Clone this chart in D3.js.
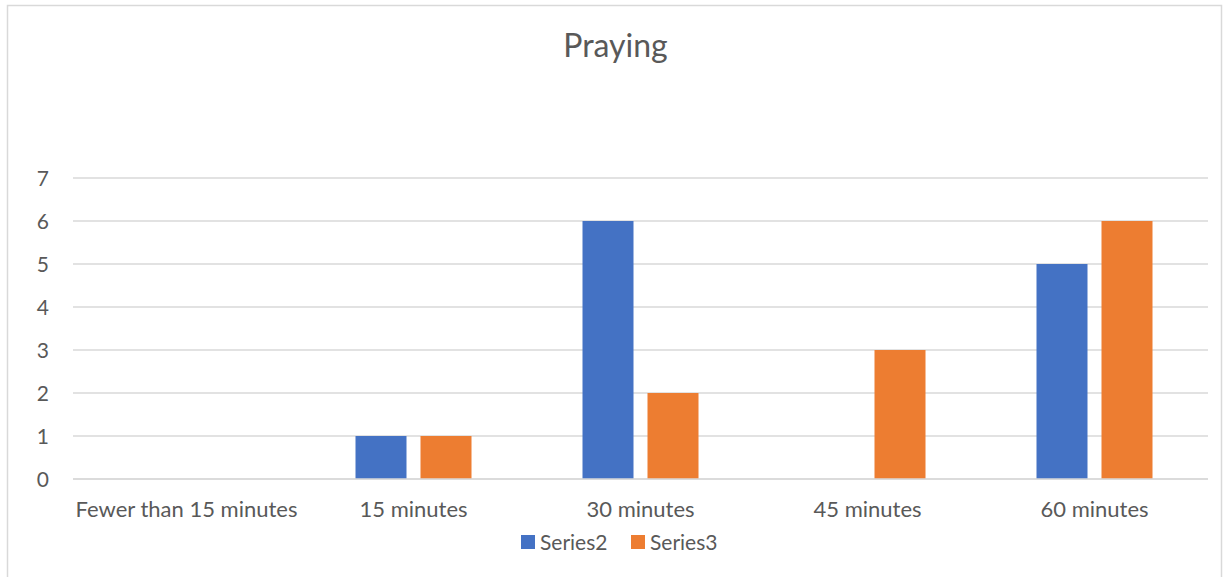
<!DOCTYPE html>
<html><head><meta charset="utf-8">
<script src="https://cdn.jsdelivr.net/npm/d3@7"></script>
<style>
html,body{margin:0;padding:0;background:#fff;}
text{font-family:Lato,"Open Sans",sans-serif;fill:#595959;}
</style></head>
<body><svg id="c" width="1226" height="577"></svg>
<script>
const title = "Praying";
const categories = ["Fewer than 15 minutes","15 minutes","30 minutes","45 minutes","60 minutes"];
const seriesNames = ["Series2","Series3"];
const series2 = [0,1,6,0,5];
const series3 = [0,1,2,3,6];
const yTicks = [0,1,2,3,4,5,6,7];
const colors = ["#4472C4","#ED7D31"];

(function(){
const svg = d3.select("#c");
svg.append("rect").attr("x",7.5).attr("y",5.5).attr("width",1214).attr("height",580)
  .attr("fill","#fff").attr("stroke","#d9d9d9").attr("stroke-width",1.5);

const pl=73, pr=1208, pt=178, pb=479;
const x = d3.scaleBand().domain(categories).range([pl,pr]).paddingInner(0).paddingOuter(0);
const y = d3.scaleLinear().domain([0,7]).range([pb,pt]);
const x1 = d3.scaleBand().domain(seriesNames).range([x.bandwidth()/2-58, x.bandwidth()/2+58]).paddingInner(14/65).paddingOuter(0);

svg.append("g").selectAll("line").data(yTicks).join("line")
  .attr("x1",pl).attr("x2",pr).attr("y1",d=>y(d)).attr("y2",d=>y(d))
  .attr("stroke","#d9d9d9").attr("stroke-width",1.5);

const yAxis = d3.axisLeft(y).tickValues(yTicks).tickFormat(d3.format("d")).tickSize(0).tickPadding(0);
const gy = svg.append("g").attr("transform",`translate(49,0)`).call(yAxis);
gy.select(".domain").remove();
gy.selectAll("text").attr("x",0).attr("text-anchor","end").style("font-size","21px").attr("dy","0.35em").attr("fill","#595959");

const data = [series2, series3];
const groups = svg.append("g").selectAll("g").data(categories).join("g")
  .attr("transform",d=>`translate(${x(d)},0)`);
groups.selectAll("rect").data((c,i)=>seriesNames.map((s,j)=>({s,v:data[j][i],j}))).join("rect")
  .attr("x",d=>x1(d.s)).attr("width",x1.bandwidth())
  .attr("y",d=>y(d.v)).attr("height",d=>y(0)-y(d.v))
  .attr("fill",d=>colors[d.j]);

svg.append("line").attr("x1",pl).attr("x2",pr).attr("y1",y(0)).attr("y2",y(0)).attr("stroke","#d9d9d9").attr("stroke-width",1.5);

const xAxis = d3.axisBottom(x).tickSize(0).tickPadding(0);
const gx = svg.append("g").attr("transform",`translate(0,${pb})`).call(xAxis);
gx.select(".domain").remove();
gx.selectAll("text").attr("y",38).attr("dy",0).style("font-size","22px").attr("fill","#595959");

svg.append("text").attr("x",615.5).attr("y",57).attr("text-anchor","middle").style("font-size","32px").text(title);

const leg = svg.append("g");
const legX = [521,631];
seriesNames.forEach((s,i)=>{
  leg.append("rect").attr("x",legX[i]).attr("y",535).attr("width",14).attr("height",14).attr("fill",colors[i]);
  leg.append("text").attr("x",legX[i]+19).attr("y",550).style("font-size","21px").text(s);
});
})();
</script></body></html>
